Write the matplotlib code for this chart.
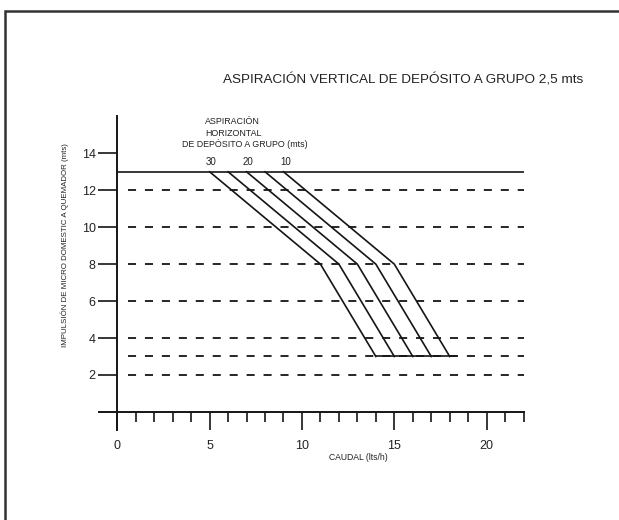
import matplotlib
matplotlib.use("Agg")
import matplotlib.pyplot as plt
from matplotlib.patches import Rectangle
from matplotlib.ticker import FixedLocator

plt.rcParams['font.family'] = ['Liberation Sans', 'DejaVu Sans']
plt.rcParams['lines.scale_dashes'] = False

# ---- data ----
heights = [13, 8, 3]                      # impulsión (mts) at the curve vertices
flow_at_13 = [5, 6, 7, 8, 9]              # caudal at 13 m
flow_at_8 = [11, 12, 13, 14, 15]          # caudal at 8 m
flow_at_3 = [14, 15, 16, 17, 18]          # caudal at 3 m
curve_labels = ['30', '', '20', '', '10']  # aspiración horizontal (mts)
dashed_levels = [12, 10, 8, 6, 4, 3, 2]
solid_level = 13
y_ticks = [2, 4, 6, 8, 10, 12, 14]
x_major = [0, 5, 10, 15, 20]
x_minor = [1, 2, 3, 4, 6, 7, 8, 9, 11, 12, 13, 14, 16, 17, 18, 19, 21, 22]

INK = '#151515'
TXT = '#222222'

fig = plt.figure(figsize=(6.19, 5.20), dpi=100)
ax = fig.add_axes([0.1447, 0.1546, 0.7310, 0.6394])
ax.set_xlim(-1.5, 23)
ax.set_ylim(-1.5, 16.5)
ax.set_facecolor('none')

# spines as the axis lines
for s in ['top', 'right']:
    ax.spines[s].set_visible(False)
ax.spines['left'].set_position(('data', 0))
ax.spines['bottom'].set_position(('data', 0))
ax.spines['left'].set_bounds(-1, 16)
ax.spines['bottom'].set_bounds(-1, 22)
for s in ['left', 'bottom']:
    ax.spines[s].set_linewidth(1.4)
    ax.spines[s].set_color(INK)

ax.yaxis.set_major_locator(FixedLocator(y_ticks))
ax.xaxis.set_major_locator(FixedLocator(x_major))
ax.xaxis.set_minor_locator(FixedLocator(x_minor))
ax.set_yticklabels([str(v) for v in y_ticks])
ax.set_xticklabels([str(v) for v in x_major])
ax.tick_params(axis='y', direction='out', length=13.5, width=1.2, color=INK,
               pad=2, labelsize=9, labelcolor=TXT)
ax.tick_params(axis='x', which='major', direction='out', length=13, width=1.2,
               color=INK, pad=7, labelsize=9, labelcolor=TXT)
ax.tick_params(axis='x', which='minor', direction='out', length=7, width=1.2,
               color=INK)

# reference lines
ax.plot([0, 22], [solid_level, solid_level], color=INK, lw=1.2,
        solid_capstyle='butt')
for lv in dashed_levels:
    ax.plot([0.6, 22], [lv, lv], color=INK, lw=1.3,
            linestyle=(0, (5.8, 6.4)), dash_capstyle='butt')

# curves
for a, b, c in zip(flow_at_13, flow_at_8, flow_at_3):
    ax.plot([a, b, c], heights, color=INK, lw=1.2)
ax.plot([min(flow_at_3), max(flow_at_3) + 0.4], [heights[-1], heights[-1]],
        color=INK, lw=1.2, solid_capstyle='butt')

for x, lab in zip(flow_at_13, curve_labels):
    if lab:
        ax.text(x + 0.1, 13.53, lab, ha='center', va='center', fontsize=7,
                color=TXT)

ann_kw = dict(va='center', fontsize=6.4, color=TXT, transform=fig.transFigure)
fig.text(205 / 619, 1 - 122 / 520, 'ASPIRACIÓN', ha='left', **ann_kw)
fig.text(205 / 619, 1 - 133 / 520, 'HORIZONTAL', ha='left', **ann_kw)
fig.text(182 / 619, 1 - 144 / 520, 'DE DEPÓSITO A GRUPO (mts)', ha='left', **ann_kw)

# titles
fig.text(403 / 619, 1 - 80 / 520, 'ASPIRACIÓN VERTICAL DE DEPÓSITO A GRUPO 2,5 mts',
         ha='center', va='center', fontsize=9.7, color=TXT)
fig.text(65 / 619, 1 - 245 / 520, 'IMPULSIÓN DE MICRO DOMESTIC A QUEMADOR (mts)',
         ha='center', va='center', rotation=90, fontsize=5.7, color=TXT)
fig.text(358 / 619, 1 - 458 / 520, 'CAUDAL (lts/h)',
         ha='center', va='center', fontsize=6.2, color=TXT)

# frame border
fig.patches.append(Rectangle((5 / 619, -0.2), 1.2, 1 - 11 / 520 + 0.2,
                             transform=fig.transFigure, fill=False,
                             edgecolor='#333333', linewidth=1.8))

fig.savefig('out.png', dpi=100)
